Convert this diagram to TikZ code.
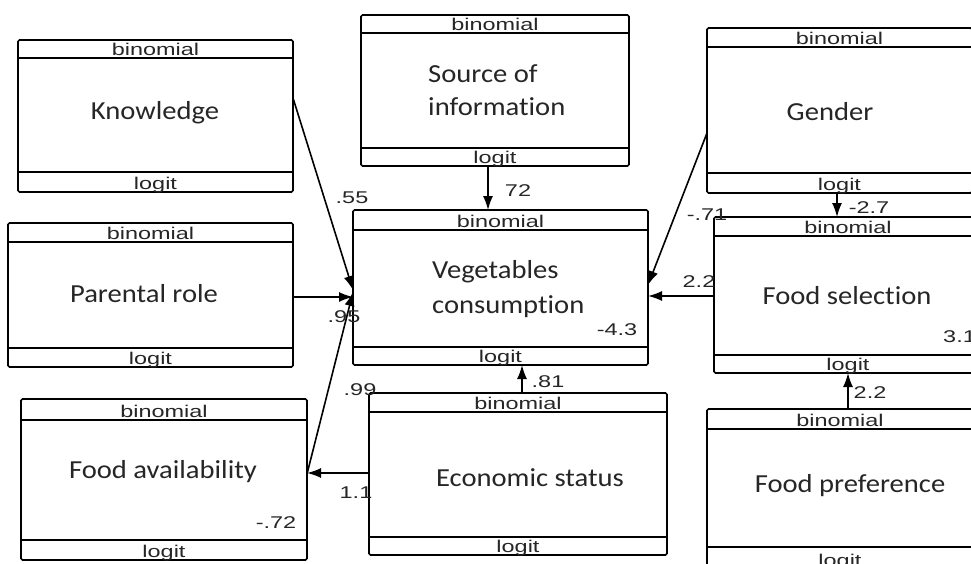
\documentclass[tikz,border=0pt]{standalone}
\usepackage{fontspec}
\usetikzlibrary{arrows.meta,calc}
\newfontfamily\boxfont[FakeStretch=1.1,Ligatures=NoCommon]{Carlito}
\newfontfamily\lblfont[FakeStretch=1.38]{Liberation Sans}
\definecolor{txt}{HTML}{262626}
\tikzset{
  frame/.style={draw=black, line width=1.7pt, rounded corners=1.5pt, inner sep=0pt, outer sep=0pt, anchor=north west},
  tag/.style={font=\lblfont\fontsize{17}{17}\selectfont, text=txt, inner sep=0pt, anchor=base},
  title/.style={font=\boxfont\fontsize{26}{33}\selectfont, text=txt, inner sep=0pt},
  coef/.style={font=\lblfont\fontsize{17}{17}\selectfont, text=txt, inner sep=0pt},
  link/.style={line width=1.6pt, -{Latex[length=14pt,width=10pt]}},
}
% name, x1, y1, x2, y2, header y, footer y, footer line width
\newcommand\mkbox[8]{%
  \node[frame, minimum width={(#4-#2)*1pt}, minimum height={(#5-#3)*1pt}] (#1) at (#2,#3) {};
  \draw[line width=1.5pt] (#1.west |- 0,#6) -- (#1.east |- 0,#6);
  \draw[line width=#8] (#1.west |- 0,#7) -- (#1.east |- 0,#7);
  \node[tag] (#1-top) at (#1.north |- 0,{#6-2.5}) {binomial};
  \node[tag] (#1-bot) at (#1.north |- 0,{#5-3}) {logit};
}
\begin{document}
\begin{tikzpicture}[x=1pt,y=-1pt]
\useasboundingbox (0,0) rectangle (971,563);
\fill[white] (0,0) rectangle (971,563);
\clip (0,0) rectangle (971,563);

\mkbox{know}{18}{40}{293}{192}{58}{172}{2.8pt}
\mkbox{src}{361}{15}{629}{166}{33}{148}{1.7pt}
\mkbox{gen}{707}{28}{972}{193}{47}{173}{2.8pt}
\mkbox{veg}{353}{210}{648}{365}{230}{347}{1.5pt}
\mkbox{fsel}{714}{217}{982}{373}{236}{355}{1.7pt}
\mkbox{par}{8}{223}{293}{367}{242}{348}{1.5pt}
\mkbox{favail}{21}{399}{307}{560}{420}{540}{2.8pt}
\mkbox{econ}{369}{393}{667}{555}{412}{537}{1.5pt}
\mkbox{fpref}{707}{409}{973}{569}{429}{547}{1.5pt}

\node[title, anchor=base] (t-know) at (155,119) {Knowledge};
\node[title, anchor=base west, align=left] (t-src) at (428,115) {Source of\\information};
\node[title, anchor=base] (t-gen) at (830,120) {Gender};
\node[title, anchor=base west, align=left, font=\boxfont\fontsize{26}{35}\selectfont] (t-veg) at (432,313) {Vegetables\\consumption};
\node[title, anchor=base] (t-fsel) at (847,304) {Food selection};
\node[title, anchor=base] (t-par) at (144,302) {Parental role};
\node[title, anchor=base] (t-favail) at (163,478) {Food availability};
\node[title, anchor=base] (t-econ) at (530,486) {Economic status};
\node[title, anchor=base] (t-fpref) at (850,492) {Food preference};

\draw[link] (know.east |- 0,98) -- (veg.west |- 0,290);
\draw[link] (src.south -| 488,0) -- (veg.north -| 488,0);
\draw[link] (gen.west |- 0,133) -- (veg.east |- 0,285);
\draw[link] (gen.south -| 837,0) -- (fsel.north -| 837,0);
\draw[link] (fsel.west |- 0,296) -- (veg.east |- 0,296);
\draw[link] (fpref.north -| 848,0) -- (fsel.south -| 848,0);
\draw[link] (par.east |- 0,297) -- (veg.west |- 0,297);
\draw[link] (favail.east |- 0,474) -- (veg.west |- 0,292);
\draw[link] (econ.north -| 522,0) -- (veg.south -| 522,0);
\draw[link] (econ.west |- 0,473) -- (favail.east |- 0,473);

\node[coef] (c1) at (352,198) {.55};
\node[coef] (c2) at (518,191) {72};
\node[coef] (c3) at (707,215) {-.71};
\node[coef] (c4) at (699,282) {2.2};
\node[coef] (c5) at (344,317) {.95};
\node[coef] (c6) at (617,330) {-4.3};
\node[coef] (c7) at (548,382) {.81};
\node[coef] (c8) at (360,390) {.99};
\node[coef] (c9) at (356,493) {1.1};
\node[coef] (c10) at (276,523) {-.72};
\node[coef] (c11) at (869,208) {-2.7};
\node[coef] (c12) at (870,393) {2.2};
\node[coef, anchor=west] (c13) at (943,337) {3.1};
\end{tikzpicture}
\end{document}
